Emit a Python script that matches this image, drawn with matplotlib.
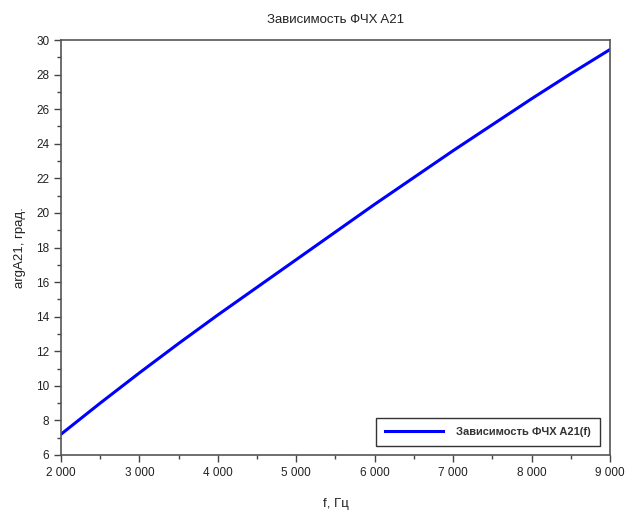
import numpy as np
import matplotlib.pyplot as plt
from matplotlib.ticker import FuncFormatter, MultipleLocator

plt.rcParams['font.family'] = ['Liberation Sans', 'DejaVu Sans']

# values
freq = [2000, 2500, 3000, 3500, 4000, 4500, 5000, 5500,
        6000, 6500, 7000, 7500, 8000, 8500, 9000]
phase = [7.2, 9.0, 10.75, 12.45, 14.1, 15.7, 17.3, 18.9,
         20.5, 22.05, 23.6, 25.1, 26.6, 28.05, 29.45]

fig = plt.figure(figsize=(6.3, 5.11), dpi=100)
ax = fig.add_axes([0.0968, 0.1096, 0.8714, 0.8121])

ax.plot(freq, phase, color='#0000ff', lw=2.2, label='Зависимость ФЧХ A21(f)')

ax.set_xlim(2000, 9000)
ax.set_ylim(6, 30)
ax.xaxis.set_major_locator(MultipleLocator(1000))
ax.xaxis.set_minor_locator(MultipleLocator(500))
ax.yaxis.set_major_locator(MultipleLocator(2))
ax.yaxis.set_minor_locator(MultipleLocator(1))
ax.xaxis.set_major_formatter(FuncFormatter(lambda v, p: '{:,.0f}'.format(v).replace(',', ' ')))

ax.tick_params(which='major', direction='out', length=5, width=1, color='#444444',
               labelsize=8.5, labelcolor='#222222')
ax.tick_params(which='minor', direction='out', length=3, width=1, color='#444444')
for s in ax.spines.values():
    s.set_color('#555555')
    s.set_linewidth(1.2)

ax.set_title('Зависимость ФЧХ A21', fontsize=9.5, color='#222222', pad=12)
ax.set_xlabel('f, Гц', fontsize=9.5, color='#222222', labelpad=14)
ax.set_ylabel('argA21, град.', fontsize=9.5, color='#222222', labelpad=7)

leg = ax.legend(loc='lower right', fontsize=8, fancybox=False, framealpha=1,
                edgecolor='#333333', handlelength=5.2, borderpad=0.8,
                handletextpad=1.2, bbox_to_anchor=(0.992, 0.008))
leg.get_frame().set_linewidth(1.0)
for t in leg.get_texts():
    t.set_fontweight('bold')
    t.set_color('#333333')

fig.savefig('out.png', dpi=100)
